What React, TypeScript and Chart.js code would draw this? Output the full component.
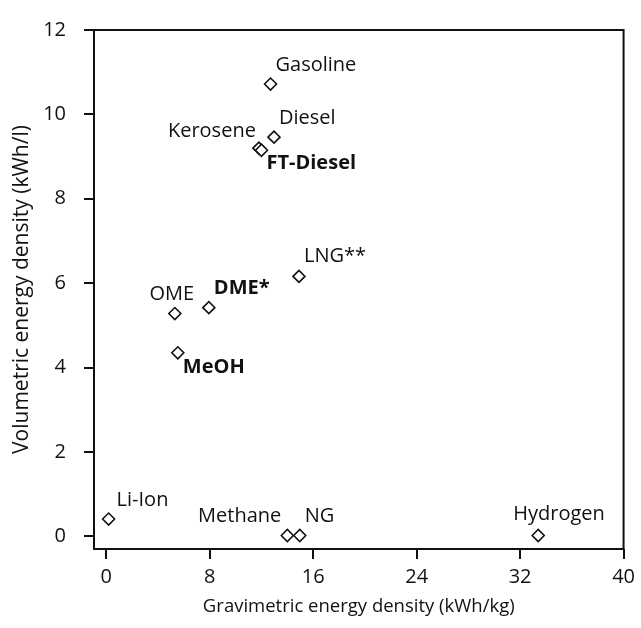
import React, { useEffect, useRef } from "react";
import { Chart, registerables } from "chart.js";

Chart.register(...registerables);

const fuelNames = [
  "Gasoline", "Diesel", "Kerosene", "FT-Diesel", "LNG**", "OME", "DME*", "MeOH",
  "Li-Ion", "Methane", "NG", "Hydrogen",
];
const gravimetric = [12.7, 12.97, 11.8, 12.0, 14.9, 5.3, 7.93, 5.53, 0.18, 14.0, 14.96, 33.4];
const volumetric = [10.72, 9.46, 9.2, 9.15, 6.16, 5.28, 5.42, 4.35, 0.41, 0.02, 0.02, 0.02];
const boldNames = ["FT-Diesel", "DME*", "MeOH"];
const xTickValues = [0, 8, 16, 24, 32, 40];
const yTickValues = [0, 2, 4, 6, 8, 10, 12];

// label placement relative to marker: [dx, dy, align]
const labelPlacement: [number, number, CanvasTextAlign][] = [
  [5, -19, "left"],
  [5, -19, "left"],
  [-3, -17, "right"],
  [5, 13, "left"],
  [5, -20, "left"],
  [-3, -19, "center"],
  [5, -19, "left"],
  [5, 15, "left"],
  [8, -19, "left"],
  [-6, -19, "right"],
  [5, -19, "left"],
  [-25, -21, "left"],
];

const FONT = "'Open Sans', sans-serif";
const INK = "#111";

const labelPlugin = {
  id: "pointLabels",
  afterDatasetsDraw(chart: any) {
    const ctx = chart.ctx;
    const meta = chart.getDatasetMeta(0);
    ctx.save();
    ctx.fillStyle = INK;
    ctx.textBaseline = "middle";
    meta.data.forEach((pt: any, i: number) => {
      const [dx, dy, align] = labelPlacement[i];
      const bold = boldNames.includes(fuelNames[i]);
      ctx.font = `${bold ? "bold " : ""}20px ${FONT}`;
      ctx.textAlign = align;
      ctx.fillText(fuelNames[i], pt.x + dx, pt.y + dy);
    });
    ctx.restore();
  },
};

const boxPlugin = {
  id: "plotBox",
  afterDraw(chart: any) {
    const { ctx, chartArea } = chart;
    ctx.save();
    ctx.strokeStyle = INK;
    ctx.lineWidth = 2;
    ctx.strokeRect(chartArea.left, chartArea.top, chartArea.right - chartArea.left, chartArea.bottom - chartArea.top);
    ctx.restore();
  },
};

export default function App() {
  const ref = useRef<HTMLCanvasElement | null>(null);
  useEffect(() => {
    if (!ref.current) return;
    const chart = new Chart(ref.current, {
      type: "scatter",
      data: {
        datasets: [
          {
            data: gravimetric.map((x, i) => ({ x, y: volumetric[i] })),
            pointStyle: "rectRot",
            pointRadius: 6,
            pointBorderWidth: 1.6,
            borderColor: INK,
            backgroundColor: "#fff",
          },
        ],
      },
      options: {
        animation: false,
        responsive: false,
        maintainAspectRatio: false,
        layout: { padding: { left: 0, right: 13, top: 19, bottom: 0 } },
        plugins: { legend: { display: false }, tooltip: { enabled: false } },
        scales: {
          x: {
            type: "linear",
            min: -0.95,
            max: 40,
            afterBuildTicks: (s: any) => {
              s.ticks = xTickValues.map((v) => ({ value: v }));
            },
            afterFit: (s: any) => {
              s.height = 79;
            },
            grid: { drawOnChartArea: false, tickLength: 10, color: INK, lineWidth: 2 },
            border: { display: false },
            ticks: { color: INK, font: { family: FONT, size: 20 }, padding: 6, maxRotation: 0 },
            title: {
              display: true,
              text: "Gravimetric energy density (kWh/kg)",
              color: INK,
              font: { family: FONT, size: 18.5 },
              padding: { top: 0, bottom: 10 },
            },
          },
          y: {
            type: "linear",
            min: -0.3,
            max: 12,
            afterBuildTicks: (s: any) => {
              s.ticks = yTickValues.map((v) => ({ value: v }));
            },
            afterFit: (s: any) => {
              s.width = 94;
            },
            grid: { drawOnChartArea: false, tickLength: 10, color: INK, lineWidth: 2 },
            border: { display: false },
            ticks: { color: INK, font: { family: FONT, size: 20 }, padding: 18 },
            title: {
              display: true,
              text: "Volumetric energy density (kWh/l)",
              color: INK,
              font: { family: FONT, size: 21 },
              padding: { top: 9, bottom: 0 },
            },
          },
        },
      },
      plugins: [labelPlugin, boxPlugin],
    });
    return () => chart.destroy();
  }, []);
  return (
    <div style={{ position: "fixed", left: 0, top: 0, width: 641, height: 628, background: "#fff" }}>
      <canvas ref={ref} width={641} height={628} style={{ width: 641, height: 628, display: "block" }} />
    </div>
  );
}
